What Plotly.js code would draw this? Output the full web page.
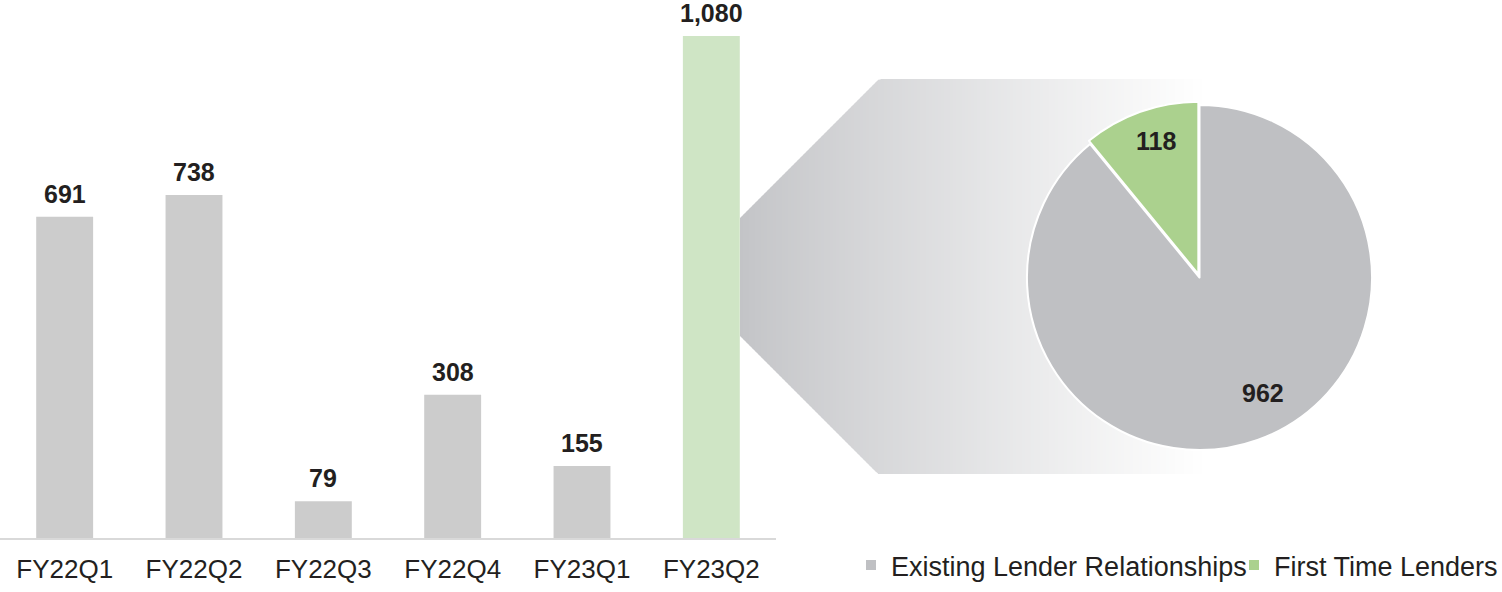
<!DOCTYPE html>
<html><head><meta charset="utf-8">
<script src="https://cdn.plot.ly/plotly-3.0.1.min.js"></script>
<style>html,body{margin:0;padding:0;background:#fff}</style>
</head><body><div id="chart" style="width:1502px;height:592px"></div>
<script>
// ---- data ----
const quarters = ['FY22Q1','FY22Q2','FY22Q3','FY22Q4','FY23Q1','FY23Q2'];
const deals = [691, 738, 79, 308, 155, 1080];
const splitLabels = ['Existing Lender Relationships', 'First Time Lenders'];
const splitValues = [962, 118];

// ---- style ----
const W = 1502, H = 592;
const FONT = 'Liberation Sans, Arial, sans-serif';
const TXT = '#231f20';
const barGray = '#cccccc', barGreen = '#cfe5c5';
const pieColors = ['#bfc0c3', '#abd18e'];
const px = x => x / W, py = y => 1 - y / H;

// gradient trapezoid connecting the last bar to the pie (drawn as thin slices)
const shapes = [];
const gx0 = 740, gx1 = 1205, step = 3;
const c0 = [195, 196, 199];
function topY(x){ return Math.max(79, 218 - (x - 740)); }
function botY(x){ return Math.min(474, 336 + (x - 740)); }
for (let x = gx0; x < gx1; x += step) {
  const xa = x, xb = Math.min(x + step + 0.6, gx1);
  const t = Math.min(1, Math.pow((x - gx0) / (gx1 - gx0), 0.9));
  const c = c0.map(v => Math.round(v + (255 - v) * t));
  const pts = [[xa, topY(xa)], [xb, topY(xb)], [xb, botY(xb)], [xa, botY(xa)]];
  const path = 'M' + pts.map(p => px(p[0]).toFixed(5) + ',' + py(p[1]).toFixed(5)).join('L') + 'Z';
  shapes.push({type:'path', xref:'paper', yref:'paper', path:path,
    fillcolor:'rgb(' + c.join(',') + ')', line:{width:0}, layer:'below'});
}

const bars = {
  type:'bar', x: quarters, y: deals,
  marker:{color: quarters.map((q,i) => i === quarters.length - 1 ? barGreen : barGray)},
  showlegend:false, hoverinfo:'skip', xaxis:'x', yaxis:'y'
};

const annotations = [];
// bar value labels, positioned through the axes' scales
quarters.forEach((q, i) => {
  annotations.push({xref:'x', yref:'y', x:q, y:deals[i], xanchor:'center', yanchor:'bottom', yshift:7,
    text: deals[i].toLocaleString('en-US'), showarrow:false,
    font:{family:FONT, size:25, weight:700, color:TXT}});
});

// pie geometry (pixels)
const pcx = 1199.5, pcy = 277.5, rad = 176;
const pie = {
  type:'pie', labels: splitLabels, values: splitValues,
  sort:false, direction:'clockwise', rotation:0,
  pull:[0, 0.02],
  marker:{colors: pieColors, line:{color:'#ffffff', width:2}},
  textinfo:'none', textposition:'none',
  domain:{x:[px(pcx - rad), px(pcx + rad)], y:[py(pcy + rad), py(pcy - rad)]},
  hoverinfo:'skip'
};

// slice value labels: placed along each slice's direction (angle from data)
const total = splitValues.reduce((a,b) => a + b, 0);
const labelRadius = [132, 143];     // px from pie centre
const labelAngleShift = [-9, 2];    // deg tweak from slice bisector
let acc = 0;
splitValues.forEach((v, i) => {
  const mid = (acc + v / 2) / total * 360 + labelAngleShift[i];
  acc += v;
  const a = mid * Math.PI / 180;
  const lx = pcx + labelRadius[i] * Math.sin(a);
  const ly = pcy - labelRadius[i] * Math.cos(a);
  annotations.push({xref:'paper', yref:'paper', x:px(lx), y:py(ly), xanchor:'center', yanchor:'middle',
    text: String(v), showarrow:false, font:{family:FONT, size:25, weight:700, color:TXT}});
});

const layout = {
  width:W, height:H, margin:{l:0, r:0, t:0, b:0, autoexpand:false},
  paper_bgcolor:'#fff', plot_bgcolor:'rgba(0,0,0,0)',
  font:{family:FONT, color:TXT},
  bargap:0.56,
  xaxis:{domain:[0, px(776)], showline:true, linecolor:'#d9d9d9', linewidth:1.5,
    ticks:'', ticklabelstandoff:7, tickfont:{family:FONT, size:26, color:TXT}, showgrid:false, fixedrange:true},
  yaxis:{domain:[py(538), 1], range:[0, 538 / (502 / 1080)], visible:false, showgrid:false, zeroline:false},
  showlegend:true,
  legend:{orientation:'h', x:px(851), xanchor:'left', y:py(541), yanchor:'top',
    entrywidth:338, entrywidthmode:'pixels',
    font:{family:FONT, size:27, color:TXT}, bgcolor:'rgba(0,0,0,0)', traceorder:'normal'},
  annotations: annotations,
  shapes: shapes
};

Plotly.newPlot('chart', [bars, pie], layout, {displayModeBar:false, staticPlot:true});
</script></body></html>
